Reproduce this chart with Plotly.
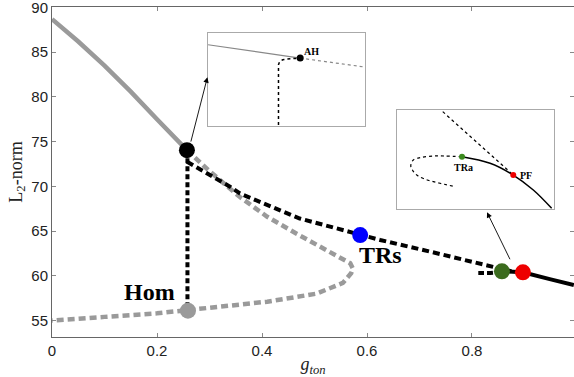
import plotly.graph_objects as go

# ---- main bifurcation diagram (g_ton vs L2-norm) ----
stable_x = [0.0, 0.05, 0.10, 0.15, 0.20, 0.257]
stable_y = [88.7, 86.2, 83.5, 80.6, 77.5, 74.05]

unstable_x = [0.257, 0.30, 0.358, 0.41, 0.466, 0.52, 0.55, 0.568, 0.573, 0.570, 0.554,
              0.504, 0.41, 0.33, 0.26, 0.20, 0.10, 0.0]
unstable_y = [74.05, 71.7, 68.8, 66.6, 64.7, 63.0, 62.0, 61.4, 60.8, 60.3, 59.2,
              58.0, 57.1, 56.6, 56.1, 55.8, 55.4, 55.0]

trs_x = [0.257, 0.259, 0.339, 0.358, 0.472, 0.587, 0.625, 0.72, 0.844, 0.875]
trs_y = [74.05, 72.7, 69.96, 69.2, 66.4, 64.55, 64.0, 62.7, 61.0, 60.5]

tra_x = [0.857, 0.835, 0.812]
tra_y = [60.45, 60.3, 60.3]

hom_x = [0.258, 0.258]
hom_y = [74.05, 56.1]

periodic_x = [0.857, 0.897, 0.95, 0.994]
periodic_y = [60.5, 60.38, 59.6, 58.95]

# special points: AH, Hom end, TRs, TRa, PF
pt_x = [0.257, 0.259, 0.587, 0.857, 0.897]
pt_y = [74.05, 56.1, 64.55, 60.5, 60.38]
pt_c = ["black", "#9a9a9a", "#0000ff", "#3b6b1e", "#ee0000"]

# ---- inset near AH (local zoom coordinates) ----
ah_stable_x = [0.0, 0.586]
ah_stable_y = [0.871, 0.728]
ah_unst_x = [0.586, 1.0]
ah_unst_y = [0.728, 0.631]
ah_hom_x = [0.448, 0.448, 0.455, 0.475, 0.501, 0.586]
ah_hom_y = [0.01, 0.656, 0.69, 0.71, 0.717, 0.728]

# ---- inset near TRa / PF (local zoom coordinates) ----
pf_line_x = [0.29, 0.740]
pf_line_y = [0.983, 0.343]
pf_solid_x = [0.413, 0.592, 0.740, 0.868, 0.985]
pf_solid_y = [0.528, 0.462, 0.343, 0.192, 0.007]
pf_loop_x = [0.413, 0.30, 0.230, 0.150, 0.102, 0.086, 0.100, 0.124, 0.170, 0.230, 0.300, 0.368]
pf_loop_y = [0.528, 0.535, 0.535, 0.520, 0.495, 0.434, 0.385, 0.343, 0.305, 0.276, 0.250, 0.225]

fig = go.Figure()

fig.add_trace(go.Scatter(x=stable_x, y=stable_y, mode="lines",
                         line=dict(color="#9a9a9a", width=4.5)))
fig.add_trace(go.Scatter(x=unstable_x, y=unstable_y, mode="lines",
                         line=dict(color="#9a9a9a", width=4.5, dash="7px,4px")))
fig.add_trace(go.Scatter(x=trs_x, y=trs_y, mode="lines",
                         line=dict(color="black", width=4, dash="7px,4px")))
fig.add_trace(go.Scatter(x=tra_x, y=tra_y, mode="lines",
                         line=dict(color="black", width=4, dash="6px,3px")))
fig.add_trace(go.Scatter(x=hom_x, y=hom_y, mode="lines",
                         line=dict(color="black", width=4, dash="5px,3px")))
fig.add_trace(go.Scatter(x=periodic_x, y=periodic_y, mode="lines",
                         line=dict(color="black", width=4)))
fig.add_trace(go.Scatter(x=pt_x, y=pt_y, mode="markers",
                         marker=dict(color=pt_c, size=16, line=dict(width=0))))

# inset 1
fig.add_trace(go.Scatter(x=ah_stable_x, y=ah_stable_y, mode="lines", xaxis="x2", yaxis="y2",
                         line=dict(color="#888888", width=1.2)))
fig.add_trace(go.Scatter(x=ah_unst_x, y=ah_unst_y, mode="lines", xaxis="x2", yaxis="y2",
                         line=dict(color="#888888", width=1.2, dash="dot")))
fig.add_trace(go.Scatter(x=ah_hom_x, y=ah_hom_y, mode="lines", xaxis="x2", yaxis="y2",
                         line=dict(color="black", width=1.5, dash="dot")))
fig.add_trace(go.Scatter(x=[0.586], y=[0.728], mode="markers", xaxis="x2", yaxis="y2",
                         marker=dict(color="black", size=7)))

# inset 2
fig.add_trace(go.Scatter(x=pf_line_x, y=pf_line_y, mode="lines", xaxis="x3", yaxis="y3",
                         line=dict(color="black", width=1.2, dash="dot")))
fig.add_trace(go.Scatter(x=pf_solid_x, y=pf_solid_y, mode="lines", xaxis="x3", yaxis="y3",
                         line=dict(color="black", width=1.5, shape="spline")))
fig.add_trace(go.Scatter(x=pf_loop_x, y=pf_loop_y, mode="lines", xaxis="x3", yaxis="y3",
                         line=dict(color="black", width=1.2, dash="dot", shape="spline")))
fig.add_trace(go.Scatter(x=[0.413, 0.740], y=[0.528, 0.343], mode="markers", xaxis="x3", yaxis="y3",
                         marker=dict(color=["#3b8a1e", "#ee0000"], size=6)))

serif = "Liberation Serif, Times New Roman, serif"
annotations = [
    dict(x=0.186, y=58.15, xref="x", yref="y", text="<b>Hom</b>", showarrow=False,
         font=dict(family=serif, size=24, color="black")),
    dict(x=0.625, y=62.3, xref="x", yref="y", text="<b>TRs</b>", showarrow=False,
         font=dict(family=serif, size=24, color="black")),
    dict(x=0.66, y=0.80, xref="x2", yref="y2", text="<b>AH</b>", showarrow=False,
         font=dict(family=serif, size=10, color="black")),
    dict(x=0.425, y=0.42, xref="x3", yref="y3", text="<b>TRa</b>", showarrow=False,
         font=dict(family=serif, size=10, color="black")),
    dict(x=0.82, y=0.34, xref="x3", yref="y3", text="<b>PF</b>", showarrow=False,
         font=dict(family=serif, size=10, color="black")),
    # pointers from the diagram to the insets
    dict(x=0.296, y=82.2, ax=0.2638, ay=74.84, xref="x", yref="y", axref="x", ayref="y",
         text="", showarrow=True, arrowhead=2, arrowsize=1.2, arrowwidth=0.9, arrowcolor="black"),
    dict(x=0.8286, y=67.1, ax=0.8737, ay=61.68, xref="x", yref="y", axref="x", ayref="y",
         text="", showarrow=True, arrowhead=2, arrowsize=1.2, arrowwidth=0.9, arrowcolor="black"),
]

inset_axis = dict(range=[0, 1], showticklabels=False, ticks="", showgrid=False, zeroline=False,
                  showline=True, mirror=True, linecolor="#aaaaaa", linewidth=1, fixedrange=True)

fig.update_layout(
    width=574, height=377,
    margin=dict(l=52, r=0, t=7, b=40),
    paper_bgcolor="white", plot_bgcolor="white",
    showlegend=False,
    font=dict(family="Liberation Sans, Arial, sans-serif", size=15, color="#222222"),
    annotations=annotations,
    xaxis=dict(range=[0, 0.9943], tickvals=[0, 0.2, 0.4, 0.6, 0.8],
               ticktext=["0", "0.2", "0.4", "0.6", "0.8"],
               ticks="inside", ticklen=4, tickcolor="#888888",
               showline=True, mirror="ticks", linecolor="#666666", linewidth=1,
               showgrid=False, zeroline=False, ticklabeloverflow="allow",
               title=dict(text="<i>g</i><sub><i>ton</i></sub>", standoff=0,
                          font=dict(family=serif, size=18, color="#222222"))),
    yaxis=dict(range=[53.15, 90.06], tickvals=[55, 60, 65, 70, 75, 80, 85, 90],
               ticks="inside", ticklen=4, tickcolor="#888888",
               showline=True, mirror="ticks", linecolor="#666666", linewidth=1,
               showgrid=False, zeroline=False, ticklabeloverflow="allow",
               title=dict(text="L<sub>2</sub>-norm", standoff=4,
                          font=dict(family=serif, size=18, color="#222222"))),
    xaxis2=dict(domain=[0.2989, 0.6002], anchor="y2", **inset_axis),
    yaxis2=dict(domain=[0.6394, 0.9221], anchor="x2", **inset_axis),
    xaxis3=dict(domain=[0.6615, 0.9617], anchor="y3", **inset_axis),
    yaxis3=dict(domain=[0.3879, 0.6879], anchor="x3", **inset_axis),
)

fig.write_html("out.html")
